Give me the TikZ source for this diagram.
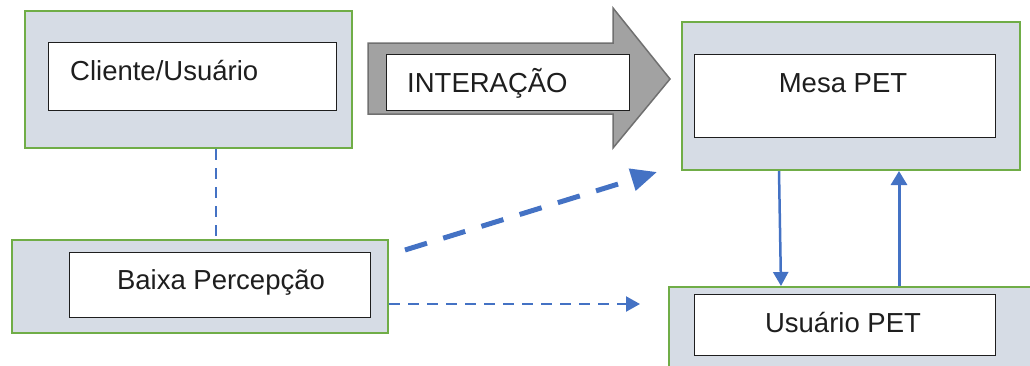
\documentclass[tikz,border=0pt]{standalone}
\usepackage{fontspec}
\setmainfont{Liberation Sans}
\usetikzlibrary{arrows.meta}
\definecolor{panel}{HTML}{D6DCE5}
\definecolor{frame}{HTML}{70AD47}
\definecolor{link}{HTML}{4472C4}
\definecolor{shaft}{HTML}{A2A2A2}
\definecolor{shaftedge}{HTML}{707070}
\definecolor{ink}{HTML}{1E1E1E}

\begin{document}
\begin{tikzpicture}[x=1pt,y=-1pt,
  panelbox/.style={draw=frame, fill=panel, line width=2pt, inner sep=0pt, anchor=north west},
  labelbox/.style={draw=ink, fill=white, line width=1.2pt, inner sep=0pt, anchor=north west},
  txt/.style={font=\fontsize{27.5}{33}\selectfont, text=ink, inner sep=0pt},
  thinlink/.style={draw=link, line width=2.2pt, dash pattern=on 11pt off 8pt},
  thicklink/.style={draw=link, line width=5pt, dash pattern=on 23pt off 17pt},
  solidlink/.style={draw=link, line width=2.5pt}]

\useasboundingbox (0,0) rectangle (1030,365);
\clip (0,0) rectangle (1030,365);

% outer panels
\node[panelbox, minimum width=327pt, minimum height=137pt] (o1) at (24,10) {};
\node[panelbox, minimum width=338pt, minimum height=148pt] (o2) at (681,21) {};
\node[panelbox, minimum width=376pt, minimum height=93pt] (o3) at (11,239) {};
\node[panelbox, minimum width=380pt, minimum height=100pt] (o4) at (668,286) {};

% inner label boxes
\node[labelbox, minimum width=288pt, minimum height=68pt] (i1) at (48,42) {};
\node[labelbox, minimum width=301pt, minimum height=83pt] (i2) at (694,54) {};
\node[labelbox, minimum width=301pt, minimum height=65pt] (i3) at (69,252) {};
\node[labelbox, minimum width=301pt, minimum height=61pt] (i4) at (694,294) {};

% block arrow with its label box
\draw[fill=shaft, draw=shaftedge, line width=1.5pt]
  (368,43) -- (613,43) -- (613,8) -- (670,79) -- (613,148) -- (613,114) -- (368,114) -- cycle;
\node[labelbox, minimum width=243pt, minimum height=56pt] (ia) at (386,54) {};

% labels
\node[txt, anchor=base west] (t1) at (70,80) {Cliente/Usuário};
\node[txt, anchor=base west] (ta) at (407,92.7) {INTERAÇÃO};
\node[txt, anchor=base] (t2) at (843,92.7) {Mesa PET};
\node[txt, anchor=base] (t3) at (221,289) {Baixa Percepção};
\node[txt, anchor=base] (t4) at (843,332.7) {Usuário PET};

% connector end points
\coordinate (p1) at ([shift={(16,11)}]o3.north east);
\coordinate (p2) at ([shift={(-24,1)}]o2.south west);
\coordinate (p3) at ([shift={(-28,0)}]o4.west |- 0,304);

% connectors
\draw[thinlink] ([xshift=27.5pt]o1.south) -- ([xshift=16pt]o3.north);
\draw[thicklink, -{Triangle[length=26pt,width=22pt]}] (p1) -- (p2);
\draw[thinlink, -{Triangle[length=14pt,width=15pt]}] (o3.east |- 0,304) -- (p3);
\draw[solidlink, -{Triangle[length=14pt,width=15pt]}] ([xshift=98pt]o2.south west) -- ([xshift=113pt]o4.north west);
\draw[solidlink, line width=3pt, -{Triangle[length=14pt,width=16pt]}] ([xshift=231pt]o4.north west) -- ([xshift=218pt]o2.south west);
\end{tikzpicture}
\end{document}
